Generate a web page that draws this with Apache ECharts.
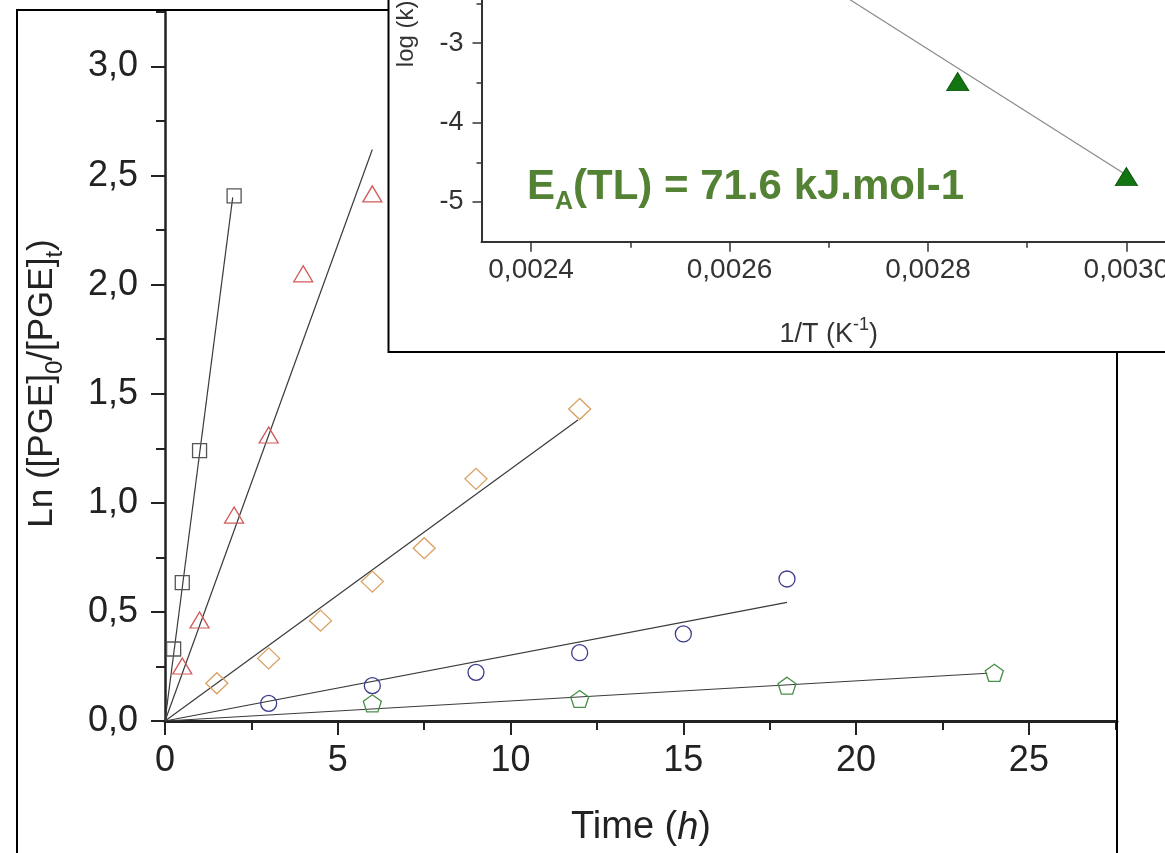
<!DOCTYPE html>
<html><head><meta charset="utf-8">
<script src="https://cdn.jsdelivr.net/npm/echarts@6/dist/echarts.min.js"></script>
<style>html,body{margin:0;padding:0;background:#fff}#c{width:1165px;height:853px}</style>
</head><body><div id="c"></div>
<script>
const FONT = "'Liberation Sans', Arial, Helvetica, sans-serif";

// ---- main chart data: Ln([PGE]0/[PGE]t) vs time (h)
const timeSquare = [0.25, 0.5, 1, 2];
const lnSquare = [0.33, 0.634, 1.239, 2.407];
const timeTriangle = [0.5, 1, 2, 3, 4, 6];
const lnTriangle = [0.252, 0.463, 0.944, 1.311, 2.05, 2.416];
const timeDiamond = [1.5, 3, 4.5, 6, 7.5, 9, 12];
const lnDiamond = [0.173, 0.287, 0.46, 0.639, 0.792, 1.11, 1.43];
const timeCircle = [3, 6, 9, 12, 15, 18];
const lnCircle = [0.081, 0.162, 0.223, 0.313, 0.399, 0.651];
const timePentagon = [6, 12, 18, 24];
const lnPentagon = [0.081, 0.101, 0.162, 0.221];
// fitted lines from origin to end point
const fitEndTime = [1.96, 6.0, 11.95, 18.0, 23.8];
const fitEndLn = [2.40, 2.62, 1.38, 0.544, 0.219];

// ---- inset data: log(k) vs 1/T
const invT = [0.00283, 0.0030];
const logK = [-3.484, -4.68];
const fitInvT = [0.0026, 0.0030];
const fitLogK = [-1.49, -4.66];

// ---- tick values
const mainXMajor = [0, 5, 10, 15, 20, 25];
const mainXMinor = [2.5, 7.5, 12.5, 17.5, 22.5, 27.5];
const mainYMajor = [0, 0.5, 1.0, 1.5, 2.0, 2.5, 3.0];
const mainYMinor = [0.25, 0.75, 1.25, 1.75, 2.25, 2.75, 3.25];
const insetXMajor = [0.0024, 0.0026, 0.0028, 0.0030];
const insetXMinor = [0.0025, 0.0027, 0.0029];
const insetYMajor = [-5, -4, -3, -2, -1];
const insetYMinor = [-4.5, -3.5, -2.5, -1.5, -0.5];

const zip = (a, b) => a.map((v, i) => [v, b[i]]);
const pentagon = 'path://M50,0 L97.6,34.5 L79.4,90.5 L20.6,90.5 L2.4,34.5 Z';

function scatter(name, xs, ys, symbol, size, color) {
  return {
    name, type: 'scatter', xAxisIndex: 0, yAxisIndex: 0, z: 3,
    data: zip(xs, ys), symbol, symbolSize: size,
    itemStyle: { color: 'transparent', borderColor: color, borderWidth: 1.3, opacity: 1 }
  };
}
const fitSeries = fitEndTime.map((t, i) => ({
  type: 'line', xAxisIndex: 0, yAxisIndex: 0, z: 2, symbol: 'none',
  data: [[0, 0], [t, fitEndLn[i]]],
  lineStyle: { color: '#3a3a3a', width: 1.2 }
}));

const axisCol = '#222';
const chart = echarts.init(document.getElementById('c'), null, { renderer: 'canvas' });
chart.setOption({
  animation: false,
  backgroundColor: '#fff',
  textStyle: { fontFamily: FONT },
  grid: [
    { left: 165, top: 12, width: 952, height: 709, outerBoundsMode: 'none', containLabel: false },
    { left: 481.5, top: -195, width: 694.5, height: 436.7, outerBoundsMode: 'none', containLabel: false }
  ],
  xAxis: [
    { gridIndex: 0, type: 'value', min: 0, max: 27.55, position: 'bottom',
      axisLine: { onZero: false, lineStyle: { color: axisCol, width: 3 } },
      axisTick: { customValues: mainXMajor, length: 14, lineStyle: { color: axisCol, width: 2 } },
      axisLabel: { customValues: mainXMajor, margin: 22, fontSize: 36, color: axisCol, fontFamily: FONT },
      splitLine: { show: false },
      name: 'Time ({i|h})', nameLocation: 'middle', nameGap: 88,
      nameTextStyle: { fontSize: 38, lineHeight: 38, color: axisCol, fontFamily: FONT,
        rich: { i: { fontSize: 38, lineHeight: 38, fontStyle: 'italic', color: axisCol, fontFamily: FONT } } } },
    { gridIndex: 0, type: 'value', min: 0, max: 27.55, position: 'bottom',
      axisLine: { show: false, onZero: false },
      axisTick: { customValues: mainXMinor, length: 9, lineStyle: { color: axisCol, width: 2 } },
      axisLabel: { show: false }, splitLine: { show: false } },
    { gridIndex: 1, type: 'value', min: 0.00235, max: 0.00305, position: 'bottom', z: 60,
      axisLine: { onZero: false, lineStyle: { color: '#333', width: 2 } },
      axisTick: { customValues: insetXMajor, length: 10, lineStyle: { color: '#333', width: 1.5 } },
      axisLabel: { customValues: insetXMajor, margin: 15, fontSize: 28, color: '#333', fontFamily: FONT,
        formatter: v => v.toFixed(4).replace('.', ',') },
      splitLine: { show: false },
      name: '{m|1/T (K}{p|-1}{m|)}', nameLocation: 'middle', nameGap: 74,
      nameTextStyle: { color: '#333', fontFamily: FONT,
        rich: { m: { fontSize: 27, lineHeight: 32, padding: [5, 0, 0, 0], verticalAlign: 'bottom', color: '#333', fontFamily: FONT },
                p: { fontSize: 18, lineHeight: 18, verticalAlign: 'top', color: '#333', fontFamily: FONT } } } },
    { gridIndex: 1, type: 'value', min: 0.00235, max: 0.00305, position: 'bottom', z: 60,
      axisLine: { show: false, onZero: false },
      axisTick: { customValues: insetXMinor, length: 6, lineStyle: { color: '#333', width: 1.5 } },
      axisLabel: { show: false }, splitLine: { show: false } }
  ],
  yAxis: [
    { gridIndex: 0, type: 'value', min: 0, max: 3.25, position: 'left',
      axisLine: { onZero: false, lineStyle: { color: axisCol, width: 2.5 } },
      axisTick: { customValues: mainYMajor, length: 14, lineStyle: { color: axisCol, width: 2 } },
      axisLabel: { customValues: mainYMajor, margin: 27, fontSize: 36, color: axisCol, fontFamily: FONT,
        formatter: v => v.toFixed(1).replace('.', ',') },
      splitLine: { show: false },
      name: '{m|Ln ([PGE]}{s|0}{m|/[PGE]}{s|t}{m|)}', nameLocation: 'middle', nameGap: 98,
      nameTextStyle: { color: axisCol, fontFamily: FONT, padding: [0, 34, 0, 0],
        rich: { m: { fontSize: 35, lineHeight: 42, padding: [0, 0, 7, 0], verticalAlign: 'top', color: axisCol, fontFamily: FONT },
                s: { fontSize: 24, lineHeight: 24, verticalAlign: 'bottom', color: axisCol, fontFamily: FONT } } } },
    { gridIndex: 0, type: 'value', min: 0, max: 3.25, position: 'left',
      axisLine: { show: false, onZero: false },
      axisTick: { customValues: mainYMinor, length: 9, lineStyle: { color: axisCol, width: 2 } },
      axisLabel: { show: false }, splitLine: { show: false } },
    { gridIndex: 1, type: 'value', min: -5.5, max: 0, position: 'left', z: 60,
      axisLine: { onZero: false, lineStyle: { color: '#333', width: 2 } },
      axisTick: { customValues: insetYMajor, length: 9, lineStyle: { color: '#333', width: 1.5 } },
      axisLabel: { customValues: insetYMajor, margin: 18, fontSize: 27, color: '#333', fontFamily: FONT },
      splitLine: { show: false },
      name: 'log (k)', nameLocation: 'middle', nameGap: 63,
      nameTextStyle: { fontSize: 24, lineHeight: 24, color: '#333', fontFamily: FONT, padding: [0, 21, 0, 0] } },
    { gridIndex: 1, type: 'value', min: -5.5, max: 0, position: 'left', z: 60,
      axisLine: { show: false, onZero: false },
      axisTick: { customValues: insetYMinor, length: 5, lineStyle: { color: '#333', width: 1.5 } },
      axisLabel: { show: false }, splitLine: { show: false } }
  ],
  graphic: { elements: [
    { type: 'rect', z: 1, silent: true, shape: { x: 17, y: 10, width: 1100, height: 900 },
      style: { fill: 'none', stroke: '#000', lineWidth: 2 } },
    { type: 'rect', z: 50, silent: true, shape: { x: 388.5, y: -20, width: 900, height: 372 },
      style: { fill: '#fff', stroke: '#000', lineWidth: 2 } },
    { type: 'text', z: 70, left: 527, top: 166, silent: true,
      style: { text: '{m|E}{s|A}{m|(TL) = 71.6 kJ.mol-1}', fill: '#548235',
        rich: { m: { fontSize: 42, lineHeight: 49, fontWeight: 'bold', padding: [0, 0, 7, 0], verticalAlign: 'top', fill: '#548235', fontFamily: FONT },
                s: { fontSize: 25, lineHeight: 25, fontWeight: 'bold', verticalAlign: 'bottom', fill: '#548235', fontFamily: FONT } } } }
  ] },
  series: [
    ...fitSeries,
    scatter('sq', timeSquare, lnSquare, 'rect', 14, '#555555'),
    scatter('tri', timeTriangle, lnTriangle, 'triangle', [19, 16], '#d05a5a'),
    scatter('dia', timeDiamond, lnDiamond, 'diamond', [22, 21], '#d9a060'),
    scatter('cir', timeCircle, lnCircle, 'circle', 16, '#3c3c8c'),
    scatter('pen', timePentagon, lnPentagon, pentagon, [18, 17], '#4a8f4a'),
    { type: 'line', xAxisIndex: 2, yAxisIndex: 2, z: 60, symbol: 'none',
      data: zip(fitInvT, fitLogK), lineStyle: { color: '#8a8a8a', width: 1.2 } },
    { type: 'scatter', xAxisIndex: 2, yAxisIndex: 2, z: 61, symbol: 'triangle', symbolSize: [22, 18],
      data: zip(invT, logK), itemStyle: { color: '#127512', borderColor: '#0b560b', borderWidth: 1, opacity: 1 } }
  ]
});
</script></body></html>
